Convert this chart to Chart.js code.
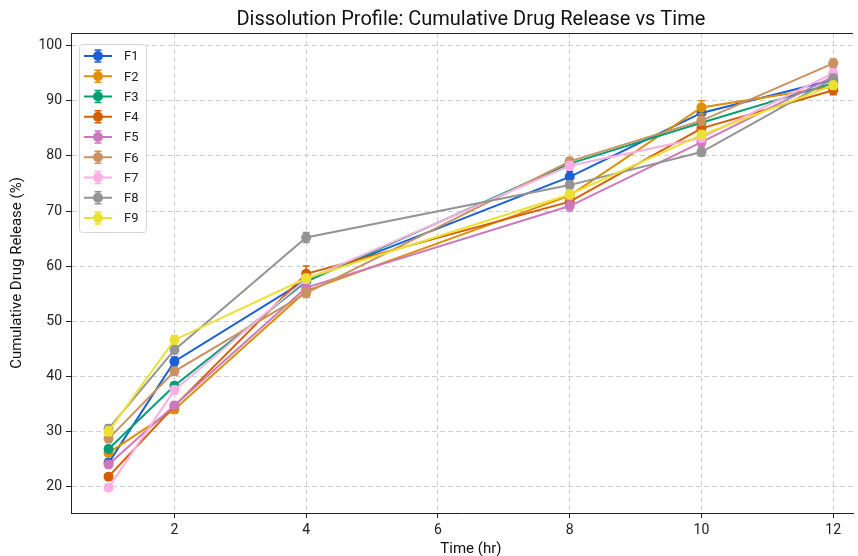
<!DOCTYPE html>
<html>
<head>
<meta charset="utf-8">
<script src="https://cdn.jsdelivr.net/npm/chart.js@4.4.1/dist/chart.umd.min.js"></script>
<style>
  html, body { margin: 0; padding: 0; background: #fff; }
  #wrap { width: 858px; height: 556px; position: relative; }
</style>
</head>
<body>
<div id="wrap"><canvas id="dissolution"></canvas></div>
<script>
// time points (hr)
const timeHr = [1, 2, 4, 8, 10, 12];
const formulations = ['F1', 'F2', 'F3', 'F4', 'F5', 'F6', 'F7', 'F8', 'F9'];

// cumulative release (%) per formulation
const f1 = [24.3, 42.7, 57.5, 76.2, 87.8, 93.8];
const f2 = [26.1, 34.0, 55.5, 72.8, 88.8, 92.6];
const f3 = [26.8, 38.3, 57.2, 78.6, 86.0, 93.2];
const f4 = [21.8, 34.6, 58.6, 71.7, 85.0, 91.9];
const f5 = [24.0, 34.7, 56.1, 70.9, 82.5, 94.4];
const f6 = [28.7, 40.9, 55.1, 79.0, 86.4, 96.8];
const f7 = [19.8, 37.5, 57.6, 78.2, 83.3, 95.0];
const f8 = [30.5, 44.8, 65.2, 74.7, 80.7, 94.0];
const f9 = [30.0, 46.6, 57.8, 73.0, 83.8, 92.8];

// standard deviations (error bars)
const f1Err = [0.7, 0.8, 0.7, 0.9, 0.8, 0.7];
const f2Err = [0.6, 0.7, 0.8, 0.8, 1.2, 0.7];
const f3Err = [0.6, 0.6, 0.7, 0.8, 0.8, 0.7];
const f4Err = [0.5, 0.6, 1.4, 0.8, 0.9, 0.8];
const f5Err = [0.6, 0.6, 0.7, 0.9, 0.8, 0.8];
const f6Err = [0.7, 0.7, 0.8, 0.7, 0.8, 0.8];
const f7Err = [0.5, 0.7, 0.7, 0.8, 0.8, 0.8];
const f8Err = [0.7, 0.7, 0.9, 0.8, 0.7, 0.8];
const f9Err = [0.8, 0.8, 0.7, 0.8, 0.8, 0.7];

const xTicks = [2, 4, 6, 8, 10, 12];
const yTicks = [20, 30, 40, 50, 60, 70, 80, 90, 100];

const series = [f1, f2, f3, f4, f5, f6, f7, f8, f9];
const errors = [f1Err, f2Err, f3Err, f4Err, f5Err, f6Err, f7Err, f8Err, f9Err];
const colors = ['#1a5fd6', '#de8f05', '#029e73', '#d55e00', '#cc78bc',
                '#ca9161', '#fbafe4', '#949494', '#ece133'];

const FONT = 'Roboto, "Open Sans", sans-serif';

const datasets = series.map((vals, i) => ({
  label: formulations[i],
  data: timeHr.map((t, j) => ({ x: t, y: vals[j] })),
  errs: errors[i],
  borderColor: colors[i],
  backgroundColor: colors[i],
  borderWidth: 2,
  pointRadius: 5,
  pointHoverRadius: 5,
  pointBorderWidth: 0,
  tension: 0,
  order: series.length - i
}));

// error bars drawn right after each dataset so they stack with it
const errorBars = {
  id: 'errorBars',
  afterDatasetDraw(chart, args) {
    const ds = chart.data.datasets[args.index];
    const ctx = chart.ctx;
    const x = chart.scales.x, y = chart.scales.y;
    ctx.save();
    ctx.strokeStyle = ds.borderColor;
    ctx.lineWidth = 1.5;
    ds.data.forEach((p, j) => {
      const px = x.getPixelForValue(p.x);
      const top = y.getPixelForValue(p.y + ds.errs[j]);
      const bot = y.getPixelForValue(p.y - ds.errs[j]);
      ctx.beginPath();
      ctx.moveTo(px, top); ctx.lineTo(px, bot);
      ctx.moveTo(px - 3.5, top); ctx.lineTo(px + 3.5, top);
      ctx.moveTo(px - 3.5, bot); ctx.lineTo(px + 3.5, bot);
      ctx.stroke();
    });
    ctx.restore();
  }
};

// title, axis labels, top spine and matplotlib-like legend
const decorations = {
  id: 'decorations',
  afterDraw(chart) {
    const ctx = chart.ctx;
    const area = chart.chartArea;
    const x = chart.scales.x;
    const midX = (x.getPixelForValue(0.45) + x.getPixelForValue(12.55)) / 2;
    ctx.save();
    // top spine
    ctx.strokeStyle = '#222';
    ctx.lineWidth = 1;
    ctx.beginPath();
    ctx.moveTo(area.left, area.top + 0.5);
    ctx.lineTo(area.right, area.top + 0.5);
    ctx.stroke();

    ctx.fillStyle = '#111';
    ctx.textAlign = 'center';
    ctx.textBaseline = 'middle';
    ctx.font = '20px ' + FONT;
    ctx.fillText('Dissolution Profile: Cumulative Drug Release vs Time', midX, 20);
    ctx.font = '15px ' + FONT;
    ctx.fillText('Time (hr)', midX, 549);
    ctx.save();
    ctx.translate(17, (area.top + area.bottom) / 2);
    ctx.rotate(-Math.PI / 2);
    ctx.fillText('Cumulative Drug Release (%)', 0, 0);
    ctx.restore();

    // legend
    const lx = 79, ly = 44, lw = 67, lh = 188;
    ctx.fillStyle = 'rgba(255,255,255,0.85)';
    ctx.strokeStyle = '#d6d6d6';
    ctx.lineWidth = 1;
    ctx.beginPath();
    ctx.roundRect(lx + 0.5, ly + 0.5, lw, lh, 3);
    ctx.fill();
    ctx.stroke();
    ctx.textAlign = 'left';
    ctx.font = '13px ' + FONT;
    formulations.forEach((name, i) => {
      const cy = 56 + i * 20.25;
      const c = colors[i];
      ctx.strokeStyle = c;
      ctx.fillStyle = c;
      ctx.lineWidth = 2;
      ctx.beginPath();
      ctx.moveTo(84, cy); ctx.lineTo(112, cy);
      ctx.stroke();
      ctx.lineWidth = 1.5;
      ctx.beginPath();
      ctx.moveTo(98, cy - 6); ctx.lineTo(98, cy + 6);
      ctx.moveTo(94.5, cy - 6); ctx.lineTo(101.5, cy - 6);
      ctx.moveTo(94.5, cy + 6); ctx.lineTo(101.5, cy + 6);
      ctx.stroke();
      ctx.beginPath();
      ctx.arc(98, cy, 5, 0, Math.PI * 2);
      ctx.fill();
      ctx.fillStyle = '#222';
      ctx.fillText(name, 124, cy + 1);
    });
    ctx.restore();
  }
};

new Chart(document.getElementById('dissolution'), {
  type: 'line',
  data: { datasets: datasets },
  plugins: [errorBars, decorations],
  options: {
    responsive: true,
    maintainAspectRatio: false,
    animation: false,
    layout: { padding: { top: 33, right: 0, left: 0, bottom: 0 } },
    plugins: {
      legend: { display: false },
      title: { display: false },
      tooltip: { enabled: false }
    },
    scales: {
      x: {
        type: 'linear',
        min: 0.43,
        max: 12.3,
        afterFit: s => { s.height = 43; s.paddingRight = 0; },
        afterBuildTicks: s => { s.ticks = xTicks.map(v => ({ value: v })); },
        grid: {
          color: '#cfcfcf',
          lineWidth: 1,
          drawTicks: true,
          tickLength: 5,
          tickColor: '#222',
          tickBorderDash: []
        },
        border: { display: true, color: '#222', width: 1, dash: [5, 3] },
        ticks: {
          color: '#222',
          padding: 4,
          maxRotation: 0,
          font: { family: FONT, size: 14 }
        }
      },
      y: {
        min: 15.2,
        max: 102.3,
        afterFit: s => { s.width = 71; },
        afterBuildTicks: s => { s.ticks = yTicks.map(v => ({ value: v })); },
        grid: {
          color: '#cfcfcf',
          lineWidth: 1,
          drawTicks: true,
          tickLength: 5,
          tickColor: '#222',
          tickBorderDash: []
        },
        border: { display: true, color: '#222', width: 1, dash: [5, 3] },
        ticks: {
          color: '#222',
          padding: 4,
          font: { family: FONT, size: 14 }
        }
      }
    }
  }
});
</script>
</body>
</html>
